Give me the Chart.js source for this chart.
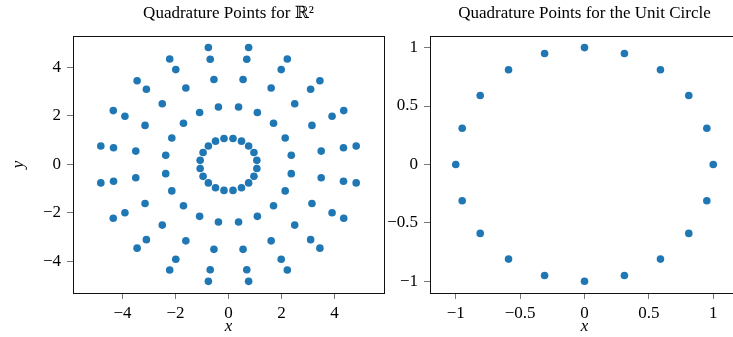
<!DOCTYPE html>
<html>
<head>
<meta charset="utf-8">
<script src="https://cdn.jsdelivr.net/npm/chart.js@4.4.1/dist/chart.umd.min.js"></script>
<style>
  html, body { margin: 0; padding: 0; background: #fff; overflow: hidden; }
  #wrap { position: relative; width: 733px; height: 337px; overflow: hidden; }
  canvas { position: absolute; top: 0; }
  #plane { left: 0; }
  #circle { left: 370px; }
</style>
</head>
<body>
<div id="wrap">
  <canvas id="plane" width="390" height="337"></canvas>
  <canvas id="circle" width="380" height="337"></canvas>
</div>
<script>
// quadrature points in the plane, one ring at a time (inner -> outer)
const ring1X = [1.07, 0.96, 0.76, 0.49, 0.17, -0.17, -0.49, -0.76, -0.96, -1.07, -1.07, -0.96, -0.76, -0.49, -0.17, 0.17, 0.49, 0.76, 0.96, 1.07];
const ring1Y = [0.17, 0.49, 0.76, 0.96, 1.07, 1.07, 0.96, 0.76, 0.49, 0.17, -0.17, -0.49, -0.76, -0.96, -1.07, -1.07, -0.96, -0.76, -0.49, -0.17];
const ring2X = [2.37, 2.14, 1.70, 1.09, 0.38, -0.38, -1.09, -1.70, -2.14, -2.37, -2.37, -2.14, -1.70, -1.09, -0.38, 0.38, 1.09, 1.70, 2.14, 2.37];
const ring2Y = [0.38, 1.09, 1.70, 2.14, 2.37, 2.37, 2.14, 1.70, 1.09, 0.38, -0.38, -1.09, -1.70, -2.14, -2.37, -2.37, -2.14, -1.70, -1.09, -0.38];
const ring3X = [3.50, 3.15, 2.50, 1.61, 0.55, -0.55, -1.61, -2.50, -3.15, -3.50, -3.50, -3.15, -2.50, -1.61, -0.55, 0.55, 1.61, 2.50, 3.15, 3.50];
const ring3Y = [0.55, 1.61, 2.50, 3.15, 3.50, 3.50, 3.15, 2.50, 1.61, 0.55, -0.55, -1.61, -2.50, -3.15, -3.50, -3.50, -3.15, -2.50, -1.61, -0.55];
const ring4X = [4.34, 3.91, 3.10, 1.99, 0.69, -0.69, -1.99, -3.10, -3.91, -4.34, -4.34, -3.91, -3.10, -1.99, -0.69, 0.69, 1.99, 3.10, 3.91, 4.34];
const ring4Y = [0.69, 1.99, 3.10, 3.91, 4.34, 4.34, 3.91, 3.10, 1.99, 0.69, -0.69, -1.99, -3.10, -3.91, -4.34, -4.34, -3.91, -3.10, -1.99, -0.69];
const ring5X = [4.82, 4.35, 3.45, 2.22, 0.76, -0.76, -2.22, -3.45, -4.35, -4.82, -4.82, -4.35, -3.45, -2.22, -0.76, 0.76, 2.22, 3.45, 4.35, 4.82];
const ring5Y = [0.76, 2.22, 3.45, 4.35, 4.82, 4.82, 4.35, 3.45, 2.22, 0.76, -0.76, -2.22, -3.45, -4.35, -4.82, -4.82, -4.35, -3.45, -2.22, -0.76];

// points on the unit circle
const circleX = [1, 0.95, 0.81, 0.59, 0.31, 0, -0.31, -0.59, -0.81, -0.95, -1, -0.95, -0.81, -0.59, -0.31, 0, 0.31, 0.59, 0.81, 0.95];
const circleY = [0, 0.31, 0.59, 0.81, 0.95, 1, 0.95, 0.81, 0.59, 0.31, 0, -0.31, -0.59, -0.81, -0.95, -1, -0.95, -0.81, -0.59, -0.31];

// tick labels
const planeXTicks = [-4, -2, 0, 2, 4];
const planeYTicks = [-4, -2, 0, 2, 4];
const circleXTicks = [-1, -0.5, 0, 0.5, 1];
const circleYTicks = [-1, -0.5, 0, 0.5, 1];

const SERIF = '"Liberation Serif", "DejaVu Serif", serif';
const BLUE = '#1f77b4';

const toPoints = (xs, ys) => xs.map((x, i) => ({ x: x, y: ys[i] }));
const minus = v => String(v).replace('-', '\u2212');

// full box round the plot area, like pgfplots
const frame = {
  id: 'frame',
  afterDraw(chart) {
    const { ctx, chartArea: a } = chart;
    ctx.save();
    ctx.strokeStyle = '#111';
    ctx.lineWidth = 1;
    ctx.strokeRect(Math.round(a.left) + 0.5, Math.round(a.top) + 0.5,
                   Math.round(a.right - a.left), Math.round(a.bottom - a.top));
    ctx.restore();
  }
};

function axis(opts) {
  const horizontal = opts.horizontal;
  return {
    type: 'linear',
    position: horizontal ? 'bottom' : 'left',
    min: opts.min,
    max: opts.max,
    afterBuildTicks: s => { s.ticks = opts.ticks.map(v => ({ value: v })); },
    afterFit: s => {
      if (horizontal) s.height = 44; else s.width = opts.width;
    },
    grid: { drawOnChartArea: false, drawTicks: true, tickLength: 6, color: '#777' },
    border: { display: false },
    ticks: {
      color: '#000',
      padding: horizontal ? 4 : 6,
      font: { family: SERIF, size: 17 },
      callback: v => minus(v)
    },
    title: {
      display: !!opts.title,
      text: opts.title || '',
      color: '#000',
      font: { family: SERIF, size: 17, style: 'italic' },
      padding: horizontal ? { bottom: 0 } : { top: 8 }
    }
  };
}

function scatter(id, title, data, xs, ys, rightPad) {
  return new Chart(document.getElementById(id), {
    type: 'scatter',
    data: {
      datasets: [{
        data: data,
        backgroundColor: BLUE,
        borderWidth: 0,
        pointRadius: 3.8
      }]
    },
    options: {
      responsive: false,
      animation: false,
      layout: { padding: { left: 0, right: rightPad, top: 0, bottom: 0 } },
      plugins: {
        legend: { display: false },
        tooltip: { enabled: false },
        title: {
          display: true,
          text: title,
          fullSize: false,
          color: '#000',
          font: { family: SERIF, size: 17, weight: 'normal' },
          padding: { top: 3, bottom: 12.5 }
        }
      },
      scales: { x: xs, y: ys }
    },
    plugins: [frame]
  });
}

const planePoints = [].concat(
  toPoints(ring1X, ring1Y), toPoints(ring2X, ring2Y), toPoints(ring3X, ring3Y),
  toPoints(ring4X, ring4Y), toPoints(ring5X, ring5Y)
);

scatter('plane', 'Quadrature Points for \u211D\u00B2', planePoints,
  axis({ horizontal: true, min: -5.87, max: 5.87, ticks: planeXTicks, title: 'x' }),
  axis({ min: -5.3, max: 5.3, ticks: planeYTicks, title: 'y', width: 73 }),
  6);

scatter('circle', 'Quadrature Points for the Unit Circle', toPoints(circleX, circleY),
  axis({ horizontal: true, min: -1.2, max: 1.2, ticks: circleXTicks, title: 'x' }),
  axis({ min: -1.1, max: 1.1, ticks: circleYTicks, width: 60 }),
  11);
</script>
</body>
</html>
